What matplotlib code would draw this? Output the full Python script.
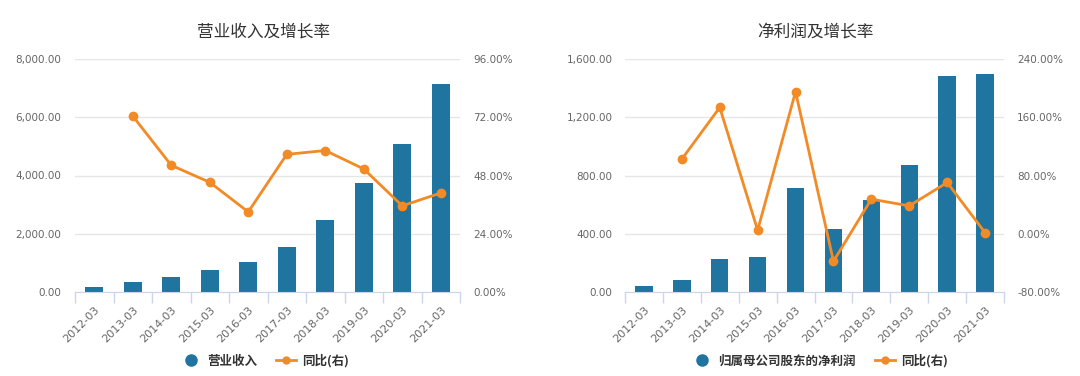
import matplotlib
matplotlib.use("Agg")
import matplotlib.pyplot as plt
from matplotlib.lines import Line2D
from matplotlib.ticker import FuncFormatter, FixedLocator
import numpy as np

plt.rcParams['font.family'] = ['Noto Sans CJK SC', 'DejaVu Sans']

years = ["2012-03", "2013-03", "2014-03", "2015-03", "2016-03",
         "2017-03", "2018-03", "2019-03", "2020-03", "2021-03"]

revenue = [172, 344, 504, 756, 1020, 1559, 2487, 3759, 5066, 7140]
revenue_yoy = [None, 72.5, 52.2, 45.2, 33.0, 56.7, 58.3, 50.7, 35.5, 40.8]

profit = [41, 80, 227, 241, 713, 431, 635, 871, 1485, 1497]
profit_yoy = [None, 102.5, 173.5, 4.8, 195.1, -37.8, 47.5, 38.3, 70.4, 1.6]

titles = ["营业收入及增长率", "净利润及增长率"]
bar_labels = ["营业收入", "归属母公司股东的净利润"]
line_label = "同比(右)"

left_ticks = [[0, 2000, 4000, 6000, 8000], [0, 400, 800, 1200, 1600]]
right_ticks = [[0, 24, 48, 72, 96], [-80, 0, 80, 160, 240]]

BAR = "#1f74a0"
ORANGE = "#f28a26"
GRID = "#e6e6e6"
AXIS = "#ccd6eb"
TXT = "#666666"
NUMFONT = "DejaVu Sans"

fig = plt.figure(figsize=(10.8, 3.76), dpi=100)
W, H = 1080, 376
axes_pos = [(75, 460), (625, 1004)]
title_cx = [264, 815]
legend_cx = [265, 820]
top_px, bot_px = 59, 292

for i in range(2):
    l, r = axes_pos[i]
    ax = fig.add_axes([l / W, 1 - bot_px / H, (r - l) / W, (bot_px - top_px) / H])
    bars = revenue if i == 0 else profit
    yoy = revenue_yoy if i == 0 else profit_yoy
    x = np.arange(len(years))
    ax.bar(x, bars, width=0.46, color=BAR, zorder=2)
    lt = left_ticks[i]
    ax.set_ylim(lt[0], lt[-1])
    ax.yaxis.set_major_locator(FixedLocator(lt))
    ax.yaxis.set_major_formatter(FuncFormatter(lambda v, p: f"{v:,.2f}"))
    ax.set_xlim(-0.5, len(years) - 0.5)
    ax.set_xticks(x)
    ax.set_xticklabels(years, rotation=45, ha="right", va="top",
                       rotation_mode="anchor", family=NUMFONT)
    ax.set_xticks(np.arange(-0.5, len(years)), minor=True)
    ax.tick_params(axis="x", which="major", length=0, labelsize=8, labelcolor=TXT, pad=9)
    ax.tick_params(axis="x", which="minor", length=8, color=AXIS, width=1)
    ax.tick_params(axis="y", length=0, labelsize=7.5, labelcolor=TXT,
                   pad=10 if i == 0 else 9)
    for lab in ax.get_yticklabels():
        lab.set_family(NUMFONT)
    ax.grid(axis="y", color=GRID, linewidth=1, zorder=0)
    for s in ["top", "right", "left"]:
        ax.spines[s].set_visible(False)
    ax.spines["bottom"].set_color(AXIS)

    ax2 = ax.twinx()
    rt = right_ticks[i]
    ax2.set_ylim(rt[0], rt[-1])
    ax2.yaxis.set_major_locator(FixedLocator(rt))
    ax2.yaxis.set_major_formatter(FuncFormatter(lambda v, p: f"{v:.2f}%"))
    ax2.tick_params(axis="y", length=0, labelsize=7.5, labelcolor=TXT, pad=9.5)
    for lab in ax2.get_yticklabels():
        lab.set_family(NUMFONT)
    for s in ax2.spines.values():
        s.set_visible(False)
    xs = [xi for xi, v in zip(x, yoy) if v is not None]
    ys = [v for v in yoy if v is not None]
    ax2.plot(xs, ys, color=ORANGE, linewidth=2, marker="o", markersize=6, zorder=3)

    fig.text(title_cx[i] / W, 1 - 32 / H, titles[i], ha="center", va="center",
             fontsize=12, color="#333333")

    handles = [Line2D([], [], linestyle="none", marker="o", markersize=8, color=BAR),
               Line2D([], [], color=ORANGE, linewidth=2, marker="o", markersize=5)]
    fig.legend(handles, [bar_labels[i], line_label], loc="center",
               bbox_to_anchor=(legend_cx[i] / W, 1 - 361 / H), ncol=2, frameon=False,
               prop={"size": 9, "weight": "bold"}, handlelength=1.6,
               columnspacing=1.5, handletextpad=0.5, labelcolor="#333333")

fig.savefig("out.png", dpi=100, facecolor="white")
